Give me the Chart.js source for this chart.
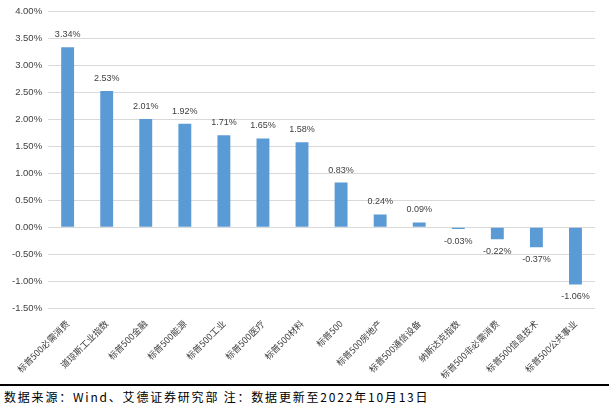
<!DOCTYPE html>
<html><head><meta charset="utf-8">
<script src="https://cdn.jsdelivr.net/npm/chart.js@4/dist/chart.umd.min.js"></script>
<style>
html,body{margin:0;padding:0;background:#fff;width:609px;height:407px;overflow:hidden;}
#wrap{position:absolute;left:0;top:0;width:609px;height:383px;}
#line{position:absolute;left:0;top:384px;width:609px;height:2px;background:#000;}
#foot{position:absolute;left:4px;top:388px;font-family:"Noto Sans CJK SC";font-size:12px;letter-spacing:1.8px;color:#000;white-space:nowrap;}
</style></head><body>
<div id="wrap"><canvas id="c" width="609" height="383"></canvas></div>
<div id="line"></div>
<div id="foot">数据来源：Wind、艾德证券研究部 注：数据更新至2022年10月13日</div>
<script>
const categories = ["标普500必需消费","道琼斯工业指数","标普500金融","标普500能源","标普500工业","标普500医疗","标普500材料","标普500","标普500房地产","标普500通信设备","纳斯达克指数","标普500非必需消费","标普500信息技术","标普500公共事业"];
const values = [3.34,2.53,2.01,1.92,1.71,1.65,1.58,0.83,0.24,0.09,-0.03,-0.22,-0.37,-1.06];
const yTicks = [4.0,3.5,3.0,2.5,2.0,1.5,1.0,0.5,0.0,-0.5,-1.0,-1.5];

const labelPlugin = {
  id:'labels',
  afterDatasetsDraw(chart){
    const ctx = chart.ctx;
    const meta = chart.getDatasetMeta(0);
    ctx.save();
    ctx.font = '9px "Liberation Sans", Arial';
    ctx.fillStyle = '#404040';
    ctx.textAlign = 'center';
    meta.data.forEach((bar,i)=>{
      const v = values[i];
      const t = v.toFixed(2) + '%';
      if (v >= 0){ ctx.textBaseline='bottom'; ctx.fillText(t, bar.x, bar.y - 8); }
      else { ctx.textBaseline='top'; ctx.fillText(t, bar.x, bar.y + 8); }
    });
    ctx.restore();
  }
};

new Chart(document.getElementById('c'), {
  type:'bar',
  data:{labels:categories, datasets:[{data:values, backgroundColor:'#5b9bd5', barPercentage:0.33, categoryPercentage:1.0}]},
  options:{
    responsive:false, animation:false,
    layout:{padding:{left:6,right:14,top:11,bottom:0}},
    plugins:{legend:{display:false}, tooltip:{enabled:false}},
    scales:{
      x:{grid:{display:false}, border:{display:false},
         ticks:{autoSkip:false, maxRotation:45, minRotation:45, color:'#404040', font:{size:9, family:'"Noto Sans CJK SC"'}, padding:2}},
      y:{min:-1.5, max:4.0,
         afterBuildTicks(axis){ axis.ticks = yTicks.map(v=>({value:v})); },
         grid:{color:'#d9d9d9', lineWidth:1, drawTicks:false},
         border:{display:false},
         ticks:{color:'#404040', padding:6, font:{size:9.5, family:'"Liberation Sans", Arial'},
                callback:(v)=>v.toFixed(2)+'%'}}
    }
  },
  plugins:[labelPlugin]
});
</script>
</body></html>
